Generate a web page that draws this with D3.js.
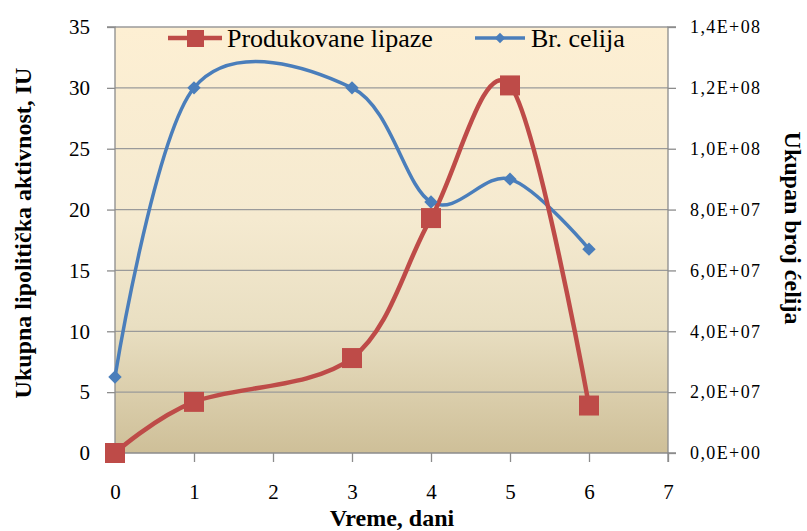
<!DOCTYPE html>
<html>
<head>
<meta charset="utf-8">
<script src="https://cdn.jsdelivr.net/npm/d3@7"></script>
<style>
  html, body { margin: 0; padding: 0; background: #ffffff; }
  svg { display: block; }
</style>
</head>
<body>
<svg id="chart" width="807" height="531"></svg>
<script>
// Lipase activity (IU) and cell count over the cultivation days
const lipazeDays = [0, 1, 3, 4, 5, 6];
const lipazeValues = [0, 4.2, 7.8, 19.3, 30.2, 3.9];
const celijeDays = [0, 1, 3, 4, 5, 6];
const celijeValues = [2.5e7, 1.2e8, 1.2e8, 8.25e7, 9.0e7, 6.7e7];

const xTicks = [0, 1, 2, 3, 4, 5, 6, 7];
const leftTicks = [0, 5, 10, 15, 20, 25, 30, 35];
const rightTicks = [0, 2e7, 4e7, 6e7, 8e7, 1e8, 1.2e8, 1.4e8];
const seriesNames = ["Produkovane lipaze", "Br. celija"];

const FONT = '"Liberation Serif"';

const svg = d3.select("#chart").style("font-family", FONT);
const plot = { left: 115, top: 27, right: 668, bottom: 453 };

const x = d3.scaleLinear().domain([0, 7]).range([plot.left, plot.right]);
const yL = d3.scaleLinear().domain([0, 35]).range([plot.bottom, plot.top]);
const yR = d3.scaleLinear().domain([0, 1.4e8]).range([plot.bottom, plot.top]);

// plot background gradient
const defs = svg.append("defs");
const grad = defs.append("linearGradient").attr("id", "bg")
  .attr("x1", 0).attr("y1", 0).attr("x2", 0).attr("y2", 1);
[[0, "#fdefd3"], [0.45, "#f5ead0"], [0.7, "#e9dfc2"], [1, "#cebf98"]].forEach(([o, c]) =>
  grad.append("stop").attr("offset", o).attr("stop-color", c));

svg.append("rect")
  .attr("x", plot.left).attr("y", plot.top)
  .attr("width", plot.right - plot.left).attr("height", plot.bottom - plot.top)
  .attr("fill", "url(#bg)");

// horizontal gridlines
svg.append("g").selectAll("line").data(leftTicks.slice(1)).join("line")
  .attr("x1", plot.left).attr("x2", plot.right)
  .attr("y1", d => yL(d)).attr("y2", d => yL(d))
  .attr("stroke", "#9a9a9a").attr("stroke-width", 1.3);

const axisColor = "#8c8c8c";

// left axis
const gL = svg.append("g").attr("transform", `translate(${plot.left},0)`)
  .call(d3.axisLeft(yL).tickValues(leftTicks).tickSize(8).tickPadding(17).tickFormat(d3.format("d")));

// right axis: values in "1,4E+08" notation
const fmtE = d => {
  const exp = d === 0 ? 0 : Math.floor(Math.log10(d));
  const m = d === 0 ? 0 : d / Math.pow(10, exp);
  return m.toFixed(1).replace(".", ",") + "E+" + String(exp).padStart(2, "0");
};
const gR = svg.append("g").attr("transform", `translate(${plot.right},0)`)
  .call(d3.axisRight(yR).tickValues(rightTicks).tickSize(8).tickPadding(14).tickFormat(fmtE));

// bottom axis
const gB = svg.append("g").attr("transform", `translate(0,${plot.bottom})`)
  .call(d3.axisBottom(x).tickValues(xTicks).tickSize(9).tickPadding(22).tickFormat(d3.format("d")));

[gL, gR, gB].forEach(g => {
  g.attr("font-family", null).attr("font-size", null);
  g.select(".domain").attr("stroke", axisColor).attr("stroke-width", 1.3);
  g.selectAll(".tick line").attr("stroke", axisColor).attr("stroke-width", 1.3);
  g.selectAll("text").style("font-family", FONT).attr("fill", "#000");
});
gL.selectAll("text").style("font-size", "21px");
gB.selectAll("text").style("font-size", "21px");
gR.selectAll("text").style("font-size", "18px").style("letter-spacing", "1.4px");
gL.select(".domain").attr("d", `M-8,${plot.bottom}H0V${plot.top}H-8`);
gR.select(".domain").attr("d", `M8,${plot.bottom}H0V${plot.top}H8`);
gB.select(".domain").attr("d", `M${plot.left},9V0H${plot.right}V9`);

// axis titles
svg.append("text")
  .attr("transform", `translate(31,233) rotate(-90)`)
  .attr("text-anchor", "middle")
  .style("font-family", FONT).style("font-size", "24px").style("font-weight", "bold")
  .text("Ukupna lipolitička aktivnost, IU");

svg.append("text")
  .attr("transform", `translate(785,228) rotate(90)`)
  .attr("text-anchor", "middle")
  .style("font-family", FONT).style("font-size", "24px").style("font-weight", "bold")
  .text("Ukupan broj ćelija");

svg.append("text")
  .attr("x", 392).attr("y", 526)
  .attr("text-anchor", "middle")
  .style("font-family", FONT).style("font-size", "24px").style("font-weight", "bold")
  .text("Vreme, dani");

const red = "#be4b48";
const blue = "#4a7ebb";
const curve = d3.curveCardinal.tension(0);

// cell count line (right axis)
const celije = celijeDays.map((d, i) => [d, celijeValues[i]]);
svg.append("path")
  .attr("d", d3.line().x(d => x(d[0])).y(d => yR(d[1])).curve(curve)(celije))
  .attr("fill", "none").attr("stroke", blue).attr("stroke-width", 3.5);

// lipase line (left axis)
const lipaze = lipazeDays.map((d, i) => [d, lipazeValues[i]]);
svg.append("path")
  .attr("d", d3.line().x(d => x(d[0])).y(d => yL(d[1])).curve(curve)(lipaze))
  .attr("fill", "none").attr("stroke", red).attr("stroke-width", 4.5);

svg.append("g").selectAll("path").data(celije).join("path")
  .attr("transform", d => `translate(${x(d[0])},${yR(d[1])}) rotate(45)`)
  .attr("d", d3.symbol().type(d3.symbolSquare).size(90))
  .attr("fill", blue);

svg.append("g").selectAll("rect").data(lipaze).join("rect")
  .attr("x", d => x(d[0]) - 10).attr("y", d => yL(d[1]) - 10)
  .attr("width", 20).attr("height", 20)
  .attr("fill", red);

// legend
const leg = svg.append("g");
leg.append("line").attr("x1", 168).attr("x2", 222).attr("y1", 38).attr("y2", 38)
  .attr("stroke", red).attr("stroke-width", 4.5);
leg.append("rect").attr("x", 187).attr("y", 30).attr("width", 17).attr("height", 17).attr("fill", red);
leg.append("text").attr("x", 227).attr("y", 47)
  .style("font-family", FONT).style("font-size", "26px").text(seriesNames[0]);

leg.append("line").attr("x1", 475).attr("x2", 525).attr("y1", 38).attr("y2", 38)
  .attr("stroke", blue).attr("stroke-width", 3.5);
leg.append("path").attr("transform", "translate(500,38) rotate(45)")
  .attr("d", d3.symbol().type(d3.symbolSquare).size(55)).attr("fill", blue);
leg.append("text").attr("x", 531).attr("y", 47)
  .style("font-family", FONT).style("font-size", "26px").text(seriesNames[1]);
</script>
</body>
</html>
